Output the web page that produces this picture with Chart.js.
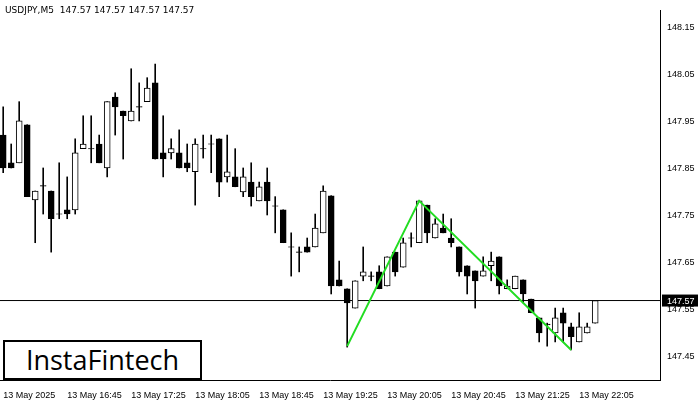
<!DOCTYPE html>
<html><head><meta charset="utf-8">
<script src="https://cdn.jsdelivr.net/npm/chart.js@4"></script>
<style>
html,body{margin:0;padding:0;background:#fff;}
#wrap{position:relative;width:700px;height:400px;}
#title{position:absolute;left:5px;top:5px;font:9px "DejaVu Sans",sans-serif;color:#000;}
#logo{position:absolute;left:3px;top:340px;width:195px;height:36px;border:2px solid #000;background:#fff;font:27px "Open Sans",sans-serif;line-height:36px;text-align:center;color:#000;box-sizing:content-box;}
</style></head>
<body><div id="wrap"><canvas id="c" width="700" height="400"></canvas>
<div id="title">USDJPY,M5&nbsp; 147.57 147.57 147.57 147.57</div>
<div id="logo">InstaFintech</div></div>
<script>
const opens=[147.922,147.863,147.863,147.944,147.784,147.814,147.803,147.754,147.763,147.763,147.893,147.893,147.903,147.852,148.003,147.973,147.952,147.982,147.993,148.033,147.884,147.884,147.884,147.863,147.844,147.893,147.903,147.914,147.833,147.833,147.801,147.822,147.782,147.822,147.771,147.763,147.684,147.673,147.684,147.684,147.714,147.793,147.614,147.595,147.554,147.622,147.622,147.631,147.601,147.673,147.641,147.703,147.693,147.773,147.703,147.724,147.703,147.684,147.644,147.633,147.622,147.644,147.663,147.595,147.595,147.614,147.573,147.533,147.520,147.501,147.544,147.514,147.482,147.501,147.522];
const highs=[147.982,147.903,147.993,147.944,147.803,147.852,147.803,147.863,147.833,147.914,147.963,147.963,147.922,147.993,148.012,147.973,148.063,148.033,148.044,148.073,147.963,147.914,147.933,147.903,147.914,147.922,147.922,147.914,147.922,147.893,147.852,147.863,147.822,147.852,147.791,147.763,147.714,147.684,147.703,147.754,147.814,147.793,147.654,147.595,147.612,147.684,147.631,147.644,147.663,147.673,147.703,147.714,147.782,147.773,147.744,147.754,147.744,147.684,147.644,147.633,147.663,147.673,147.663,147.614,147.622,147.614,147.573,147.533,147.522,147.554,147.554,147.522,147.544,147.522,147.565];
const lows=[147.842,147.852,147.863,147.791,147.693,147.754,147.673,147.744,147.744,147.754,147.893,147.863,147.863,147.833,147.922,147.871,147.952,147.952,147.993,147.871,147.833,147.871,147.852,147.844,147.773,147.873,147.842,147.791,147.822,147.812,147.791,147.771,147.782,147.752,147.714,147.693,147.622,147.631,147.673,147.684,147.714,147.584,147.601,147.471,147.554,147.612,147.612,147.595,147.601,147.622,147.641,147.684,147.693,147.693,147.703,147.714,147.684,147.622,147.584,147.554,147.622,147.612,147.584,147.595,147.595,147.565,147.544,147.482,147.473,147.482,147.482,147.465,147.482,147.501,147.522];
const closes=[147.852,147.852,147.952,147.791,147.803,147.814,147.744,147.754,147.754,147.884,147.903,147.893,147.863,147.993,147.982,147.963,147.973,147.982,148.022,147.871,147.871,147.893,147.852,147.852,147.903,147.893,147.903,147.822,147.844,147.812,147.833,147.791,147.812,147.782,147.771,147.693,147.684,147.673,147.673,147.724,147.803,147.601,147.601,147.565,147.612,147.631,147.622,147.595,147.663,147.631,147.693,147.703,147.782,147.714,147.733,147.714,147.693,147.631,147.622,147.612,147.633,147.654,147.601,147.601,147.622,147.584,147.544,147.501,147.518,147.533,147.522,147.493,147.514,147.514,147.57];
const patternIdx=[43,52,71];
const patternVals=[147.473,147.782,147.465];
const lastPrice=147.57;
const priceTicks=[147.45,147.55,147.65,147.75,147.85,147.95,148.05,148.15];
const timeTickIdx=[0,8,16,24,32,40,48,56,64,72];
const timeLabels=["13 May 2025","13 May 16:45","13 May 17:25","13 May 18:05","13 May 18:45","13 May 19:25","13 May 20:05","13 May 20:45","13 May 21:25","13 May 22:05"];

const XMIN=-0.4, XMAX=82.1;
const bodies=opens.map((o,i)=>{let c=closes[i];if(Math.abs(o-c)<0.0008){return {x:i,y:[o-0.0005,o+0.0005]};}return {x:i,y:[o,c]};});
const wicks=opens.map((o,i)=>({x:i,y:[lows[i],highs[i]]}));
const bodyFill=opens.map((o,i)=>closes[i]>o?'#ffffff':'#000000');

const priceLabel={id:'pl',afterDraw(ch){const y=ch.scales.y.getPixelForValue(lastPrice);const c=ch.ctx;const x0=ch.chartArea.right+2;c.save();c.fillStyle='#000';c.fillRect(x0,y-6,36,12);c.fillStyle='#fff';c.font='9px "Liberation Sans"';c.textBaseline='middle';c.fillText(lastPrice.toFixed(2),x0+5,y+0.5);c.restore();}};

new Chart(document.getElementById('c'),{
 data:{datasets:[
  {type:'line',data:[{x:XMIN,y:lastPrice},{x:XMAX,y:lastPrice}],borderColor:'#000',borderWidth:1,pointRadius:0,order:5},
  {type:'bar',data:wicks,backgroundColor:'#000',barThickness:1,grouped:false,order:3},
  {type:'bar',data:bodies,backgroundColor:bodyFill,borderColor:'#000',borderWidth:1,borderSkipped:false,barThickness:6,grouped:false,order:2},
  {type:'line',data:patternIdx.map((x,i)=>({x:x,y:patternVals[i]})),borderColor:'#22dd22',borderWidth:2,pointRadius:0,order:1}
 ]},
 options:{responsive:false,animation:false,
  layout:{padding:{top:10,left:0,right:0,bottom:0}},
  plugins:{legend:{display:false},tooltip:{enabled:false}},
  scales:{
   x:{type:'linear',min:XMIN,max:XMAX,offset:false,grid:{display:false,drawTicks:true},border:{color:'#000'},
     afterBuildTicks(s){s.ticks=timeTickIdx.map(v=>({value:v}));},
     afterFit(s){s.height=20;},
     ticks:{autoSkip:false,maxRotation:0,align:'start',color:'#000',font:{family:'Liberation Sans',size:9},padding:2,
       callback(v){const k=timeTickIdx.indexOf(v);return k>=0?timeLabels[k]:'';}}},
   y:{position:'right',min:147.401,max:148.188,grid:{display:false,tickLength:4},border:{color:'#000'},
     afterBuildTicks(s){s.ticks=priceTicks.map(v=>({value:v}));},
     afterFit(s){s.width=40;},
     ticks:{color:'#000',font:{family:'Liberation Sans',size:9},padding:3,callback(v){return v.toFixed(2);}}}
  }},
 plugins:[priceLabel]
});
</script></body></html>
